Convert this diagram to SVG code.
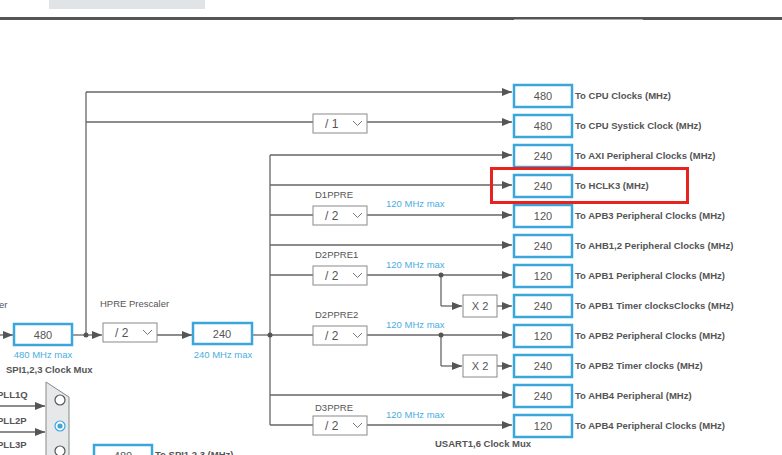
<svg xmlns="http://www.w3.org/2000/svg" width="782" height="455" viewBox="0 0 782 455">
<style>
.ln{stroke:#666;stroke-width:1.3;fill:none}
.ar{marker-end:url(#ah)}
.ob{fill:#fff;stroke:#3ba6dc;stroke-width:2.5}
.dd{fill:#fff;stroke:#8a8a8a;stroke-width:1}
.val{font-family:"Liberation Sans",Arial,sans-serif;font-size:11px;fill:#555;text-anchor:middle}
.lab{font-family:"Liberation Sans",Arial,sans-serif;font-size:9.5px;font-weight:bold;fill:#555}
.sm{font-family:"Liberation Sans",Arial,sans-serif;font-size:9.5px;fill:#555}
.dv{font-family:"Liberation Sans",Arial,sans-serif;font-size:12px;fill:#555}
.blue{font-family:"Liberation Sans",Arial,sans-serif;font-size:9.5px;fill:#4aaee0}
.chev{stroke:#777;stroke-width:1;fill:none}
.dot{fill:#555}
</style>
<defs>
<marker id="ah" markerWidth="11" markerHeight="9" refX="10" refY="4" orient="auto" markerUnits="userSpaceOnUse">
<path d="M0,0 L10,4 L0,8 z" fill="#555"/>
</marker>
</defs>
<rect x="0" y="0" width="782" height="455" fill="#fff"/>
<g id="topbar">
<rect x="49" y="0" width="156" height="9" fill="#e1e4e7"/>
<rect x="0" y="17" width="782" height="3" fill="#555"/>
<rect x="514" y="19" width="129" height="1" fill="#aaa"/>
</g>

<g id="connectors">
<line class="ln ar" x1="0" y1="335" x2="13" y2="335"/>
<line class="ln ar" x1="72" y1="335" x2="102" y2="335"/>
<line class="ln" x1="86" y1="92" x2="86" y2="335"/>
<line class="ln ar" x1="86" y1="92" x2="512" y2="92"/>
<line class="ln" x1="86" y1="122" x2="313" y2="122"/>
<line class="ln ar" x1="367" y1="122" x2="512" y2="122"/>
<line class="ln ar" x1="157" y1="335" x2="192" y2="335"/>
<line class="ln" x1="252" y1="335" x2="270" y2="335"/>
<line class="ln" x1="270" y1="155" x2="270" y2="425"/>
<line class="ln ar" x1="270" y1="155" x2="512" y2="155"/>
<line class="ln ar" x1="270" y1="185" x2="512" y2="185"/>
<line class="ln" x1="270" y1="215" x2="313" y2="215"/>
<line class="ln ar" x1="367" y1="215" x2="512" y2="215"/>
<line class="ln ar" x1="270" y1="245" x2="512" y2="245"/>
<line class="ln" x1="270" y1="275" x2="313" y2="275"/>
<line class="ln ar" x1="367" y1="275" x2="512" y2="275"/>
<line class="ln" x1="441" y1="275" x2="441" y2="306"/>
<line class="ln ar" x1="441" y1="306" x2="462" y2="306"/>
<line class="ln ar" x1="497" y1="306" x2="512" y2="306"/>
<line class="ln" x1="270" y1="335" x2="313" y2="335"/>
<line class="ln ar" x1="367" y1="335" x2="512" y2="335"/>
<line class="ln" x1="441" y1="335" x2="441" y2="366"/>
<line class="ln ar" x1="441" y1="366" x2="462" y2="366"/>
<line class="ln ar" x1="497" y1="366" x2="512" y2="366"/>
<line class="ln ar" x1="270" y1="395" x2="512" y2="395"/>
<line class="ln" x1="270" y1="425" x2="313" y2="425"/>
<line class="ln ar" x1="367" y1="425" x2="512" y2="425"/>
<line class="ln ar" x1="0" y1="406" x2="45" y2="406"/>
<line class="ln ar" x1="0" y1="432" x2="45" y2="432"/>
<circle class="dot" cx="86" cy="335" r="2.5"/>
<circle class="dot" cx="270" cy="335" r="2.5"/>
<circle class="dot" cx="441" cy="275" r="2.5"/>
<circle class="dot" cx="441" cy="335" r="2.5"/>
</g>

<g id="left-labels">
<text class="sm" x="-1" y="308">er</text>
<text class="blue" x="43" y="358" text-anchor="middle">480 MHz max</text>
<text class="lab" x="6" y="373">SPI1,2,3 Clock Mux</text>
<text class="sm" x="100" y="307">HPRE Prescaler</text>
<text class="blue" x="223" y="358" text-anchor="middle">240 MHz max</text>
</g>

<g id="sysclk"><rect class="ob" x="14" y="324" width="58" height="21"/><text class="val" x="43" y="339">480</text></g>
<g id="hpre"><rect class="dd" x="103" y="323" width="54" height="19"/><text class="dv" x="115" y="337">/ 2</text><polyline class="chev" points="143,330 147.5,334.5 152,330"/></g>
<g id="hclk"><rect class="ob" x="193" y="323" width="59" height="21"/><text class="val" x="222" y="338">240</text></g>

<g id="systick-div"><rect class="dd" x="313" y="114" width="54" height="19"/><text class="dv" x="325" y="128">/ 1</text><polyline class="chev" points="353,121 357.5,125.5 362,121"/></g>

<g id="d1ppre"><text class="sm" x="315" y="198">D1PPRE</text><text class="blue" x="386" y="207">120 MHz max</text><rect class="dd" x="313" y="206" width="54" height="19"/><text class="dv" x="325" y="220">/ 2</text><polyline class="chev" points="353,213 357.5,217.5 362,213"/></g>
<g id="d2ppre1"><text class="sm" x="315" y="258">D2PPRE1</text><text class="blue" x="386" y="268">120 MHz max</text><rect class="dd" x="313" y="266" width="54" height="19"/><text class="dv" x="325" y="280">/ 2</text><polyline class="chev" points="353,273 357.5,277.5 362,273"/></g>
<g id="d2ppre2"><text class="sm" x="315" y="318">D2PPRE2</text><text class="blue" x="386" y="328">120 MHz max</text><rect class="dd" x="313" y="326" width="54" height="19"/><text class="dv" x="325" y="340">/ 2</text><polyline class="chev" points="353,333 357.5,337.5 362,333"/></g>
<g id="d3ppre"><text class="sm" x="315" y="411">D3PPRE</text><text class="blue" x="386" y="418">120 MHz max</text><rect class="dd" x="313" y="416" width="54" height="19"/><text class="dv" x="325" y="430">/ 2</text><polyline class="chev" points="353,423 357.5,427.5 362,423"/></g>

<g id="x2-apb1"><rect class="dd" x="463" y="295" width="34" height="22"/><text class="val" x="480" y="310">X 2</text></g>
<g id="x2-apb2"><rect class="dd" x="463" y="355" width="34" height="22"/><text class="val" x="480" y="370">X 2</text></g>

<g id="out-cpu"><rect class="ob" x="514" y="85" width="58" height="22"/><text class="val" x="543" y="100">480</text><text class="lab" x="575" y="99">To CPU Clocks (MHz)</text></g>
<g id="out-systick"><rect class="ob" x="514" y="115" width="58" height="22"/><text class="val" x="543" y="130">480</text><text class="lab" x="575" y="129">To CPU Systick Clock (MHz)</text></g>
<g id="out-axi"><rect class="ob" x="514" y="145" width="58" height="22"/><text class="val" x="543" y="160">240</text><text class="lab" x="575" y="159">To AXI Peripheral Clocks (MHz)</text></g>
<g id="out-hclk3"><rect class="ob" x="514" y="175" width="58" height="22"/><text class="val" x="543" y="190">240</text><text class="lab" x="575" y="189">To HCLK3 (MHz)</text></g>
<g id="out-apb3"><rect class="ob" x="514" y="205" width="58" height="22"/><text class="val" x="543" y="220">120</text><text class="lab" x="575" y="219">To APB3 Peripheral Clocks (MHz)</text></g>
<g id="out-ahb12"><rect class="ob" x="514" y="235" width="58" height="22"/><text class="val" x="543" y="250">240</text><text class="lab" x="575" y="249">To AHB1,2 Peripheral Clocks (MHz)</text></g>
<g id="out-apb1"><rect class="ob" x="514" y="265" width="58" height="22"/><text class="val" x="543" y="280">120</text><text class="lab" x="575" y="279">To APB1 Peripheral Clocks (MHz)</text></g>
<g id="out-apb1t"><rect class="ob" x="514" y="295" width="58" height="22"/><text class="val" x="543" y="310">240</text><text class="lab" x="575" y="309">To APB1 Timer clocksClocks (MHz)</text></g>
<g id="out-apb2"><rect class="ob" x="514" y="325" width="58" height="22"/><text class="val" x="543" y="340">120</text><text class="lab" x="575" y="339">To APB2 Peripheral Clocks (MHz)</text></g>
<g id="out-apb2t"><rect class="ob" x="514" y="355" width="58" height="22"/><text class="val" x="543" y="370">240</text><text class="lab" x="575" y="369">To APB2 Timer clocks (MHz)</text></g>
<g id="out-ahb4"><rect class="ob" x="514" y="385" width="58" height="22"/><text class="val" x="543" y="400">240</text><text class="lab" x="575" y="399">To AHB4 Peripheral (MHz)</text></g>
<g id="out-apb4"><rect class="ob" x="514" y="415" width="58" height="22"/><text class="val" x="543" y="430">120</text><text class="lab" x="575" y="429">To APB4 Peripheral Clocks (MHz)</text></g>

<g id="highlight"><rect x="491.5" y="168.5" width="196" height="34" fill="none" stroke="#e8231f" stroke-width="3"/></g>

<g id="spi-mux">
<text class="lab" x="-3" y="398" fill="#333">PLL1Q</text>
<text class="lab" x="-3" y="424" fill="#333">PLL2P</text>
<text class="lab" x="-3" y="448" fill="#333">PLL3P</text>
<polygon points="46,382 69,397 69,460 46,460" fill="#e6e8ea" stroke="#888" stroke-width="1"/>
<circle cx="60" cy="400" r="5" fill="#fff" stroke="#555" stroke-width="1.2"/>
<circle cx="60" cy="426" r="5" fill="#fff" stroke="#3ba6dc" stroke-width="1.2"/>
<circle cx="60" cy="426" r="2.6" fill="#3ba6dc"/>
<circle cx="60" cy="451" r="5" fill="#fff" stroke="#555" stroke-width="1.2"/>
</g>
<g id="spi-out"><rect class="ob" x="94" y="445" width="58" height="22"/><text class="val" x="123" y="460">480</text><text class="lab" x="155" y="458">To SPI1,2,3 (MHz)</text></g>
<g id="usart-mux"><text class="lab" x="435" y="447" fill="#999">USART1,6 Clock Mux</text></g>
</svg>
